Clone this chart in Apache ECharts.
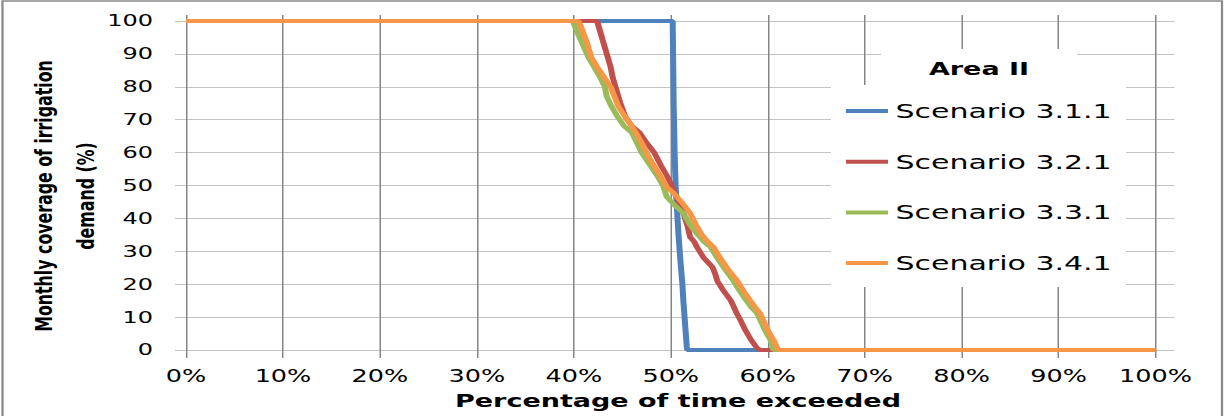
<!DOCTYPE html>
<html>
<head>
<meta charset="utf-8">
<title>Area II</title>
<script src="https://cdn.jsdelivr.net/npm/echarts@6/dist/echarts.min.js"></script>
<style>
html, body { margin: 0; padding: 0; background: #fff; overflow: hidden; }
/* the source picture is stretched sideways, so draw narrow and scale */
#main { width: 816.667px; height: 416px; transform: scaleX(1.5); transform-origin: 0 0; }
</style>
</head>
<body>
<div id="main"></div>
<script>
// series names and colours
var seriesNames = ['Scenario 3.1.1', 'Scenario 3.2.1', 'Scenario 3.3.1', 'Scenario 3.4.1'];
var seriesColors = ['#4F81BD', '#C0504D', '#9BBB59', '#F79646'];

// [percentage of time exceeded, monthly coverage %]
var s311 = [[0, 100], [50.2, 100], [50.3, 75], [50.4, 60], [50.5, 50], [50.7, 40], [50.8, 35],
	[51.0, 27], [51.2, 20], [51.3, 15], [51.5, 7], [51.65, 1], [51.7, 0], [100, 0]];
var s321 = [[0, 100], [42.4, 100], [43.0, 94], [43.2, 92], [43.4, 90], [43.8, 86], [44.0, 83],
	[44.3, 80], [44.8, 75], [45.3, 71], [46.0, 68], [46.8, 66], [47.5, 63], [48.3, 60], [49.0, 56],
	[49.6, 53], [50.1, 50], [50.8, 45], [51.3, 41.6], [51.7, 38], [52.0, 34.3], [52.4, 33],
	[52.7, 31.3], [53.4, 28], [54.3, 25.2], [54.6, 23], [54.8, 21], [55.4, 18.2], [56.2, 15],
	[56.8, 11.2], [57.2, 9], [57.7, 6], [58.3, 3], [58.9, 0.6], [59.2, 0], [100, 0]];
var s331 = [[0, 100], [39.9, 100], [40.3, 97], [40.9, 93], [41.5, 89], [42.1, 86], [42.7, 83],
	[43.2, 80], [43.4, 77], [43.9, 74], [44.5, 71], [45.2, 68], [46.0, 66], [46.5, 63], [47.0, 60],
	[47.8, 56.5], [48.6, 53], [49.2, 50], [49.6, 46.5], [50.4, 44], [51.3, 41.6], [52.0, 38],
	[52.8, 35], [53.4, 33], [54.1, 31.3], [54.8, 28], [55.6, 24.5], [56.4, 21.3], [57.1, 18],
	[57.8, 15], [58.3, 13], [58.9, 11.2], [59.4, 8], [59.9, 5], [60.3, 3], [60.6, 0], [100, 0]];
var s341 = [[0, 100], [40.5, 100], [40.9, 97], [41.4, 93], [41.8, 89], [42.4, 86], [43.1, 83],
	[43.8, 80], [44.2, 77], [44.6, 74], [45.5, 70], [46.2, 67], [47.0, 63], [47.5, 60], [47.9, 57.8],
	[48.7, 54], [49.6, 49.5], [50.3, 47.7], [51.1, 45], [52.0, 41.6], [52.6, 38], [53.2, 35],
	[53.8, 33], [54.4, 31.3], [55.1, 28], [55.9, 24.5], [56.8, 21.3], [57.5, 18], [58.2, 15],
	[58.7, 13], [59.2, 11.2], [59.7, 8], [60.2, 5], [60.6, 3], [61.1, 0], [100, 0]];
var seriesData = [s311, s321, s331, s341];

var S = 1.5;
//picture x -> chart x
function sx(v) {
	return v / S;
}

var font = 'DejaVu Sans';
var series = [];
for (var i = 0; i < seriesNames.length; i++) {
	series.push({
		name: seriesNames[i],
		type: 'line',
		xAxisIndex: 0,
		yAxisIndex: 0,
		data: seriesData[i],
		symbol: 'none',
		clip: false,
		lineStyle: { width: 4, color: seriesColors[i] },
		itemStyle: { color: seriesColors[i] }
	});
}

var option = {
	animation: false,
	backgroundColor: '#fff',
	color: seriesColors,
	textStyle: { fontFamily: font, color: '#000' },
	grid: [{
		// data + horizontal lines
		left: sx(175), right: sx(51), top: 21, bottom: 66,
		outerBoundsMode: 'none'
	}, {
		// vertical lines + % labels
		left: sx(186), right: sx(70), top: 15, bottom: 58,
		outerBoundsMode: 'none'
	}],
	xAxis: [{
		gridIndex: 0,
		type: 'value',
		min: -11 / 9.69,
		max: 100 + 19 / 9.69,
		show: false
	}, {
		gridIndex: 1,
		type: 'value',
		min: 0,
		max: 100,
		interval: 10,
		axisLine: { show: false },
		axisTick: { show: false },
		splitLine: { show: true, lineStyle: { color: '#858585', width: 1 } },
		axisLabel: { formatter: '{value}%', fontSize: 17, margin: 10, color: '#000', fontFamily: font }
	}],
	yAxis: [{
		gridIndex: 0,
		type: 'value',
		min: 0,
		max: 100,
		interval: 10,
		axisLine: { show: false },
		axisTick: { show: false },
		splitLine: { show: true, lineStyle: { color: '#c4c4c4', width: 1 } },
		axisLabel: { fontSize: 16, margin: sx(22), color: '#000', fontFamily: font }
	}, {
		gridIndex: 1,
		type: 'value',
		min: 0,
		max: 100,
		show: false
	}],
	legend: {
		orient: 'vertical',
		left: sx(846),
		top: 101,
		padding: 0,
		itemGap: 30.7,
		itemWidth: sx(42),
		itemHeight: 4,
		icon: 'rect',
		data: seriesNames,
		textStyle: { fontSize: 20, lineHeight: 20, color: '#000', fontFamily: font }
	},
	graphic: [
		// white boxes behind legend and its title
		{ type: 'rect', z: 1, shape: { x: sx(881), y: 49, width: sx(196), height: 36 }, style: { fill: '#fff' } },
		{ type: 'rect', z: 1, shape: { x: sx(831), y: 85, width: sx(295), height: 202 }, style: { fill: '#fff' } },
		{ type: 'text', z: 5, x: sx(979), y: 69,
			style: { text: 'Area II', fontSize: 18, fontWeight: 'bold', fontFamily: font, fill: '#000', align: 'center', verticalAlign: 'middle' } },
		{ type: 'text', z: 5, x: sx(678), y: 401,
			style: { text: 'Percentage of time exceeded', fontSize: 18, fontWeight: 'bold', fontFamily: font, fill: '#000', align: 'center', verticalAlign: 'middle' } },
		{ type: 'text', z: 5, x: sx(65), y: 196, rotation: Math.PI / 2,
			style: { text: 'Monthly coverage of irrigation\ndemand (%)', fontSize: 15.8, lineHeight: 28, fontWeight: 'bold', fontFamily: font, fill: '#000', align: 'center', verticalAlign: 'middle' } },
		// outer frame
		{ type: 'rect', z: 5, shape: { x: sx(2.5), y: 1, width: sx(1219.5), height: 430 }, style: { fill: 'none', stroke: '#8a8a8a', lineWidth: 1.5 } }
	],
	series: series
};

var myChart = echarts.init(document.getElementById('main'), null, { renderer: 'svg' });
myChart.setOption(option);
</script>
</body>
</html>
